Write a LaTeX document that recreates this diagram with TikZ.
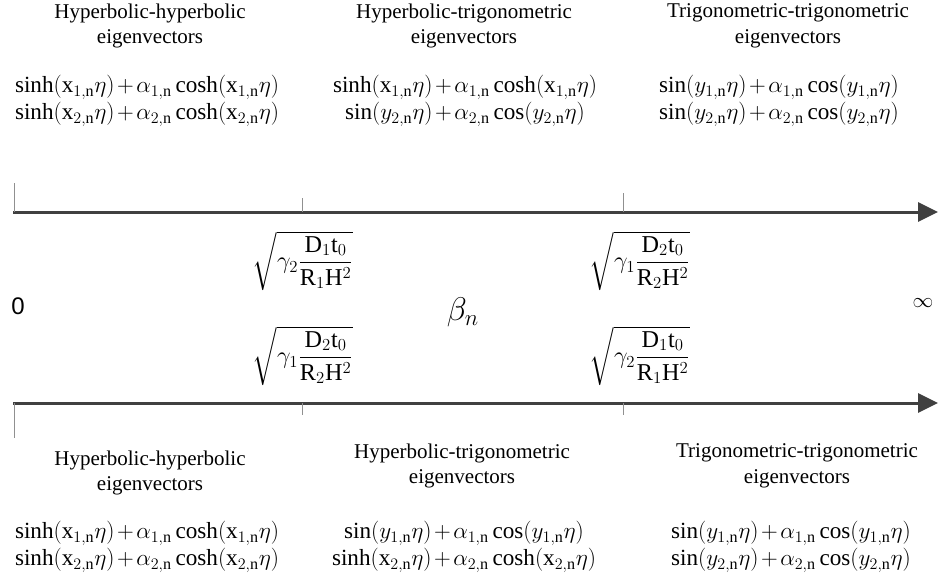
\documentclass[tikz,border=0pt]{standalone}
\usepackage{amsmath}
\usepackage{fontspec}
\setmainfont{Liberation Serif}
\newfontfamily\arialfont{Liberation Sans}
\usetikzlibrary{arrows.meta}
\definecolor{axisgrey}{HTML}{404040}
\definecolor{tickgrey}{HTML}{909090}
\newcommand{\rmx}[1]{\mathrm{x}_{#1,\mathrm{n}}}
\newcommand{\ity}[1]{y_{#1,\mathrm{n}}}
\newcommand{\al}[1]{\alpha_{#1,\mathrm{n}}}
\newcommand{\pl}{\mskip2mu{+}\mskip2mu}
\begin{document}
\begin{tikzpicture}[x=1pt,y=-1pt,
  title/.style={align=center,inner sep=0pt,font=\fontsize{21}{25.5}\selectfont},
  formula/.style={align=center,inner sep=0pt,scale=1.34,font=\fontsize{17.28}{20.2}\selectfont},
  rootlbl/.style={inner sep=0pt,scale=1.4,font=\fontsize{17.28}{20}\selectfont},
  axisline/.style={draw=axisgrey,line width=3pt,-{Triangle[length=20pt,width=19pt]}},
  tickline/.style={draw=tickgrey,line width=0.8pt}]
\useasboundingbox (0,0) rectangle (938,582);
% top texts
\node[title] (t1) at (150,26) {Hyperbolic-hyperbolic\\eigenvectors};
\node[title] (t2) at (464,26) {Hyperbolic-trigonometric\\eigenvectors};
\node[title] (t3) at (788,26) {Trigonometric-trigonometric\\eigenvectors};
\node[formula] (f1) at (147,101) {$\sinh(\rmx1\eta)\pl\al1\cosh(\rmx1\eta)$\\$\sinh(\rmx2\eta)\pl\al2\cosh(\rmx2\eta)$};
\node[formula] (f2) at (465,101) {$\sinh(\rmx1\eta)\pl\al1\cosh(\rmx1\eta)$\\$\sin(\ity2\eta)\pl\al2\cos(\ity2\eta)$};
\node[formula] (f3) at (779,101) {$\sin(\ity1\eta)\pl\al1\cos(\ity1\eta)$\\$\sin(\ity2\eta)\pl\al2\cos(\ity2\eta)$};
% top axis
\coordinate (a1s) at (13,212);
\coordinate (a1e) at (938,212);
\draw[axisline] (a1s) -- (a1e);
\coordinate (tk1a) at (14,183); \coordinate (tk1b) at (14,212);
\coordinate (tk2a) at (302,198); \coordinate (tk2b) at (302,212);
\coordinate (tk3a) at (623,193); \coordinate (tk3b) at (623,212);
\draw[tickline] (tk1a) -- (tk1b);
\draw[tickline] (tk2a) -- (tk2b);
\draw[tickline] (tk3a) -- (tk3b);
% middle labels
\node[inner sep=0pt,font=\arialfont\fontsize{24}{28}\selectfont] (zero) at (18,306) {0};
\node[inner sep=0pt,font=\fontsize{20.74}{24}\selectfont] (inf) at (923,303) {$\infty$};
\node[inner sep=0pt,scale=1.9,font=\fontsize{17.28}{24}\selectfont] (beta) at (463,312) {$\beta_n$};
\node[rootlbl] (r1) at (303,261) {$\sqrt{\gamma_2\dfrac{\mathrm{D}_1\mathrm{t}_0}{\mathrm{R}_1\mathrm{H}^2}}$};
\node[rootlbl] (r2) at (303,356) {$\sqrt{\gamma_1\dfrac{\mathrm{D}_2\mathrm{t}_0}{\mathrm{R}_2\mathrm{H}^2}}$};
\node[rootlbl] (r3) at (640,261) {$\sqrt{\gamma_1\dfrac{\mathrm{D}_2\mathrm{t}_0}{\mathrm{R}_2\mathrm{H}^2}}$};
\node[rootlbl] (r4) at (640,356) {$\sqrt{\gamma_2\dfrac{\mathrm{D}_1\mathrm{t}_0}{\mathrm{R}_1\mathrm{H}^2}}$};
% bottom axis
\coordinate (a2s) at (13,403);
\coordinate (a2e) at (938,403);
\draw[axisline] (a2s) -- (a2e);
\coordinate (tk4a) at (14,403); \coordinate (tk4b) at (14,438);
\coordinate (tk5a) at (302,403); \coordinate (tk5b) at (302,415);
\coordinate (tk6a) at (623,403); \coordinate (tk6b) at (623,415);
\draw[tickline] (tk4a) -- (tk4b);
\draw[tickline] (tk5a) -- (tk5b);
\draw[tickline] (tk6a) -- (tk6b);
% bottom texts
\node[title] (b1) at (150,473) {Hyperbolic-hyperbolic\\eigenvectors};
\node[title] (b2) at (462,466) {Hyperbolic-trigonometric\\eigenvectors};
\node[title] (b3) at (797,466) {Trigonometric-trigonometric\\eigenvectors};
\node[formula] (g1) at (147,547) {$\sinh(\rmx1\eta)\pl\al1\cosh(\rmx1\eta)$\\$\sinh(\rmx2\eta)\pl\al2\cosh(\rmx2\eta)$};
\node[formula] (g2) at (464,547) {$\sin(\ity1\eta)\pl\al1\cos(\ity1\eta)$\\$\sinh(\rmx2\eta)\pl\al2\cosh(\rmx2\eta)$};
\node[formula] (g3) at (791,547) {$\sin(\ity1\eta)\pl\al1\cos(\ity1\eta)$\\$\sin(\ity2\eta)\pl\al2\cos(\ity2\eta)$};
\end{tikzpicture}
\end{document}
